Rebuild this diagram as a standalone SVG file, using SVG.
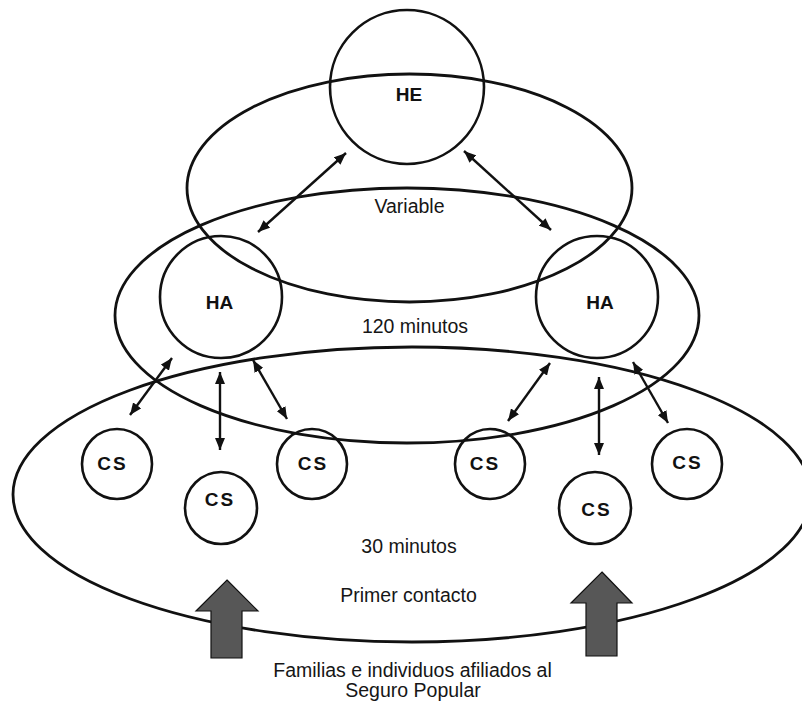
<svg xmlns="http://www.w3.org/2000/svg" width="802" height="702" viewBox="0 0 802 702">
  <style>
    .ring { fill: none; stroke: #111; stroke-width: 2.8; }
    .node { fill: none; stroke: #111; stroke-width: 2.6; }
    .link { stroke: #111; stroke-width: 2.4; fill: none; marker-start: url(#tip); marker-end: url(#tip); }
    .lbl { font-family: "Liberation Sans", Arial, sans-serif; font-size: 19.5px; fill: #161616; text-anchor: middle; }
    .bold { font-family: "Liberation Sans", Arial, sans-serif; font-size: 19px; font-weight: bold; fill: #111; text-anchor: middle; }
    .cs { letter-spacing: 2px; }
    .big { fill: #575757; stroke: #111; stroke-width: 1.2; }
  </style>
  <defs>
    <marker id="tip" markerUnits="userSpaceOnUse" markerWidth="12" markerHeight="10" refX="12" refY="5" orient="auto-start-reverse">
      <path d="M0,0 L12,5 L0,10 z" fill="#111"/>
    </marker>
  </defs>
  <rect width="802" height="702" fill="#fff"/>

  <!-- service areas -->
  <g id="areas">
    <ellipse id="area-variable" class="ring" cx="409.5" cy="188" rx="222.5" ry="114"/>
    <ellipse id="area-120" class="ring" cx="407" cy="315.5" rx="292" ry="127.5"/>
    <ellipse id="area-30" class="ring" cx="412" cy="494.5" rx="399" ry="147.5"/>
  </g>

  <g id="he">
    <circle class="node" cx="407" cy="87" r="77"/>
    <text class="bold" x="409" y="101">HE</text>
  </g>
  <g id="ha-left">
    <circle class="node" cx="221" cy="297" r="61"/>
    <text class="bold" x="219.5" y="309">HA</text>
  </g>
  <g id="ha-right">
    <circle class="node" cx="597" cy="297" r="61"/>
    <text class="bold" x="600" y="309">HA</text>
  </g>

  <g id="cs-1"><circle class="node" cx="117" cy="464" r="35"/><text class="bold cs" x="112.5" y="470">CS</text></g>
  <g id="cs-2"><circle class="node" cx="221" cy="508" r="36"/><text class="bold cs" x="220" y="506">CS</text></g>
  <g id="cs-3"><circle class="node" cx="312" cy="464" r="35"/><text class="bold cs" x="313" y="470">CS</text></g>
  <g id="cs-4"><circle class="node" cx="490" cy="464" r="35"/><text class="bold cs" x="485" y="470">CS</text></g>
  <g id="cs-5"><circle class="node" cx="595" cy="508" r="36"/><text class="bold cs" x="596.5" y="516">CS</text></g>
  <g id="cs-6"><circle class="node" cx="687" cy="464" r="35"/><text class="bold cs" x="687.5" y="469">CS</text></g>

  <!-- two-way links between levels -->
  <g id="connectors">
    <line class="link" x1="346" y1="153" x2="258" y2="232"/>
    <line class="link" x1="464" y1="151" x2="551" y2="230"/>
    <line class="link" x1="172" y1="358" x2="130" y2="415"/>
    <line class="link" x1="220" y1="372" x2="220" y2="450"/>
    <line class="link" x1="253" y1="360" x2="287" y2="419"/>
    <line class="link" x1="550" y1="363" x2="508" y2="421"/>
    <line class="link" x1="599" y1="377" x2="599" y2="455"/>
    <line class="link" x1="633" y1="362" x2="668" y2="423"/>
  </g>

  <g id="entry-arrows">
    <polygon class="big" points="227,580 258,611 242,611 242,658 211,658 211,611 196,611"/>
    <polygon class="big" points="602,572 632,603 617,603 617,656 586,656 586,603 571,603"/>
  </g>

  <g id="labels">
    <text class="lbl" x="409.5" y="213">Variable</text>
    <text class="lbl" x="415" y="333">120 minutos</text>
    <text class="lbl" x="409" y="553">30 minutos</text>
    <text class="lbl" x="408.5" y="602">Primer contacto</text>
    <text class="lbl" x="412.5" y="677">Familias e individuos afiliados al</text>
    <text class="lbl" x="413" y="697">Seguro Popular</text>
  </g>
</svg>
